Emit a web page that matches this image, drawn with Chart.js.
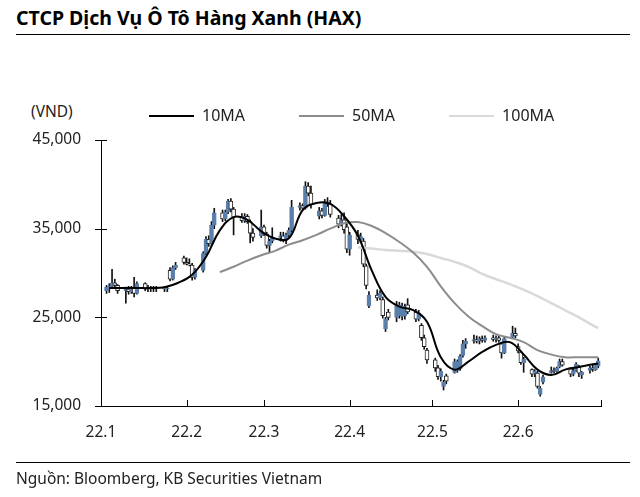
<!DOCTYPE html>
<html>
<head>
<meta charset="utf-8">
<script src="https://cdn.jsdelivr.net/npm/chart.js@4.4.1/dist/chart.umd.min.js"></script>
<style>
  html, body { margin: 0; padding: 0; background: #fff; }
  body { width: 640px; height: 497px; position: relative; overflow: hidden; font-family: 'Noto Sans', sans-serif; color: #000; }
  #title { position: absolute; left: 16px; top: 4px; font-size: 19.5px; font-weight: bold; white-space: nowrap; }
  #titleLine { position: absolute; left: 16px; top: 34px; width: 614px; border-top: 1px solid #000; }
  #unit { position: absolute; left: 31px; top: 100px; font-size: 15.5px; color: #222; }
  #footLine { position: absolute; left: 16px; top: 462px; width: 614px; border-top: 1px solid #000; }
  #source { position: absolute; left: 16px; top: 467px; font-size: 15.5px; color: #222; white-space: nowrap; }
  #wrap { position: absolute; left: 0; top: 0; width: 640px; height: 497px; }
</style>
</head>
<body>
<div id="title">CTCP Dịch Vụ Ô Tô Hàng Xanh (HAX)</div>
<div id="titleLine"></div>
<div id="unit">(VND)</div>
<div id="wrap"><canvas id="chart"></canvas></div>
<div id="footLine"></div>
<div id="source">Nguồn: Bloomberg, KB Securities Vietnam</div>
<script>
// x axis: days counted from 2022-01-01, ticks at the first day of each month
const monthStarts = [0, 31, 59, 90, 120, 151, 181];
const monthLabels = ['22.1', '22.2', '22.3', '22.4', '22.5', '22.6', ''];

// daily candles, one per weekday from Jan 3 to Jun 30 (VND)
const open = [
  28000, 28400, 28500, 28900, 28600, 28000, 28200, 27900, 28300, 27700, 28800, 28300, 28200, 28300, 28200, 28300, 28200, 30300, 29300, 30600,
  31700, 31200, 31000, 30900, 29500, 30300, 32200, 33800, 33300, 35400, 36800, 36100, 36900, 38100, 37200, 36300, 35900, 36400, 35800, 34500, 34200,
  35200, 34400, 33100, 33600, 34000, 34200, 33700, 34300, 34800, 37400, 37600, 37300, 39800, 39000, 36400, 37000, 36500, 38000, 37800, 36200, 35500, 36000, 35200,
  32700, 34300, 33800, 33600, 30800, 26300, 27500, 27200, 27000, 23700, 25600, 25000, 25200, 25100, 25200, 26400, 25600, 24800, 24100, 22700, 21300,
  20200, 19300, 18300, 17200, 18400, 18800, 19000, 19200, 20700, 22000, 22300, 22500, 22300, 22600, 22400, 22700, 22500, 22700, 22000, 21000, 22800, 23200,
  21700, 21100, 19900, 19100, 18600, 18700, 16300, 17700, 18800, 19000, 18900, 19400, 20000, 19200, 18600, 19000, 19400, 18500, 19000, 19300, 19100, 19500
];
const high = [
  28600, 28800, 30400, 29300, 28700, 28400, 28500, 28500, 29500, 29000, 28900, 28600, 28500, 28500, 28500, 28500, 28500, 30600, 30800, 31200,
  31900, 31700, 31600, 31100, 30500, 32400, 34100, 34200, 35800, 37300, 37100, 37100, 38300, 38400, 37400, 36700, 36700, 36600, 36000, 35000, 37100,
  35400, 34600, 33800, 35100, 34600, 34600, 34500, 35100, 38200, 37900, 37800, 40300, 40200, 39800, 37400, 37300, 38300, 38500, 38200, 36500, 36600, 36800, 35700,
  34600, 34800, 34500, 33900, 31000, 27900, 28100, 28000, 27300, 25000, 25900, 26800, 26700, 26600, 26500, 27100, 25900, 25800, 24300, 23000, 21500,
  20400, 19600, 19200, 17900, 18600, 20300, 20200, 20800, 22400, 22600, 23000, 22900, 22800, 22900, 22900, 23000, 22900, 22900, 22200, 22800, 24000, 23800,
  22000, 21200, 20500, 19200, 19100, 18900, 17200, 18500, 19400, 19300, 19400, 20300, 20300, 19300, 19200, 19900, 19600, 18900, 19500, 19600, 19800, 20400
];
const low = [
  27700, 27800, 28300, 28400, 27700, 26600, 27600, 27700, 27300, 27600, 28000, 27900, 27900, 27900, 27900, 27900, 27900, 29100, 29200, 30400,
  31000, 30900, 30800, 29200, 29300, 30100, 32000, 33000, 33100, 35000, 35800, 35900, 36700, 36900, 34300, 35700, 35700, 35600, 33400, 33600, 34000,
  34200, 32800, 32300, 33400, 33600, 33500, 33300, 34000, 34600, 37100, 37100, 37200, 38700, 37300, 36100, 36200, 36400, 37500, 36300, 35100, 35300, 34500, 32300,
  32000, 33300, 33400, 30700, 28200, 26100, 26900, 27000, 24900, 23400, 24700, 24500, 24900, 24700, 24800, 25400, 24500, 24600, 22400, 21400, 19800,
  18900, 18000, 17800, 16800, 17500, 18700, 18800, 19000, 20500, 21500, 22100, 22100, 22000, 22200, 22200, 22300, 22200, 22200, 20400, 20900, 22600, 22700,
  21000, 19700, 18800, 18300, 18300, 17000, 16100, 17500, 18700, 18700, 18800, 19300, 19500, 18300, 18400, 18900, 18300, 18100, 18700, 18900, 19000, 19300
];
const close = [
  28400, 28500, 28900, 28600, 28000, 28200, 27900, 28300, 27700, 28800, 28300, 28200, 28300, 28200, 28300, 28200, 28300, 29300, 30600, 30900,
  31200, 31000, 30900, 29500, 30300, 32200, 33800, 33300, 35400, 36800, 36100, 36900, 38100, 37200, 36300, 35900, 36400, 35800, 34500, 34000, 35200,
  34400, 33100, 33600, 34000, 34200, 33700, 34300, 34800, 37400, 37600, 37300, 39800, 39000, 37700, 37000, 36500, 38000, 37800, 36600, 35500, 36000, 34900, 32700,
  34300, 33800, 34100, 31000, 28600, 27500, 27200, 27700, 25200, 24800, 25000, 26300, 26400, 26300, 26200, 25600, 24800, 25500, 22700, 21700, 20200,
  19300, 18300, 18900, 17700, 17800, 20000, 20000, 20600, 22000, 22300, 22500, 22300, 22600, 22400, 22700, 22500, 22700, 22400, 21000, 22600, 23200, 22900,
  21200, 19900, 20300, 18600, 18900, 17200, 17000, 18300, 19000, 18900, 19300, 20000, 19600, 18600, 19000, 19700, 18700, 18800, 19300, 19100, 19600, 20100
];

// moving averages at these days
const maDays = [3, 8, 13, 18, 23, 28, 33, 38, 43, 48, 53, 58, 63, 68, 73, 78, 83, 88, 93, 98,
  103, 108, 113, 118, 123, 128, 133, 138, 143, 148, 153, 158, 163, 168, 173, 178, 180];
const ma10 = [28300, 28300, 28300, 28300, 28400, 28900, 29800, 31800, 34800, 36300, 36000, 34700, 33900, 33900, 37100, 37900, 37800, 36400, 34200, 30300,
  27300, 26200, 25800, 24500, 20500, 19100, 20000, 21100, 21900, 22200, 20800, 19100, 18500, 19100, 19400, 19700, 19800];
const ma50 = [null, null, null, null, null, null, null, null, 30100, 30700, 31400, 32000, 32500, 33200, 33700, 34300, 35000, 35600, 35750, 35300,
  34500, 33500, 32300, 30700, 28500, 26600, 25100, 24000, 23100, 22700, 22200, 21300, 20800, 20500, 20500, 20500, 20500];
const ma100 = [null, null, null, null, null, null, null, null, null, null, null, null, null, null, null, null, null, null, 32900, 32750,
  32600, 32500, 32400, 32150, 31700, 31250, 30700, 29900, 29300, 28750, 28100, 27400, 26600, 25800, 25000, 24100, 23800];

// weekdays only (2022-01-01 was a Saturday)
const tradingDays = [];
for (let d = 0; d <= 180; d++) {
  if (d % 7 >= 2) tradingDays.push(d);
}

const UP = '#5b7fab';
const FONT = "'Noto Sans', sans-serif";
Chart.defaults.font.family = FONT;
Chart.defaults.color = '#222';

const maLine = (label, values, color, width) => ({
  type: 'line',
  label: label,
  data: maDays.map((d, i) => ({ x: d, y: values[i] })),
  borderColor: color,
  backgroundColor: color,
  borderWidth: width,
  pointRadius: 0,
  tension: 0.4,
  order: 0
});

// small tick marks: inward on the x axis, crossing on the y axis
const tickMarks = {
  id: 'tickMarks',
  afterDraw(chart) {
    const { ctx, chartArea: a, scales: { x, y } } = chart;
    ctx.save();
    ctx.strokeStyle = '#000';
    ctx.lineWidth = 1;
    ctx.beginPath();
    x.ticks.forEach(t => {
      const px = Math.round(x.getPixelForValue(t.value)) + 0.5;
      ctx.moveTo(px, a.bottom);
      ctx.lineTo(px, a.bottom - 6);
    });
    y.ticks.forEach(t => {
      const py = Math.round(y.getPixelForValue(t.value)) + 0.5;
      ctx.moveTo(a.left - 6, py);
      ctx.lineTo(a.left + 6, py);
    });
    ctx.stroke();
    ctx.restore();
  }
};

// move the legend row to where the original has it (over the plot, a bit higher)
const legendNudge = {
  id: 'legendNudge',
  afterLayout(chart) {
    const l = chart.legend;
    if (l) {
      l.top -= 6;
      l.bottom -= 6;
      l.left += 95;
      l.right += 95;
    }
  }
};

new Chart(document.getElementById('chart'), {
  type: 'bar',
  data: {
    datasets: [
      maLine('10MA', ma10, '#000000', 2),
      maLine('50MA', ma50, '#8c8c8c', 2),
      maLine('100MA', ma100, '#d9d9d9', 2.5),
      {
        label: 'body',
        data: tradingDays.map((d, i) => ({ x: d, y: [open[i], close[i]] })),
        backgroundColor: c => close[c.dataIndex] >= open[c.dataIndex] ? UP : '#ffffff',
        borderColor: c => close[c.dataIndex] >= open[c.dataIndex] ? UP : '#222222',
        borderWidth: 1,
        borderSkipped: false,
        barThickness: 4,
        grouped: false,
        order: 1
      },
      {
        label: 'wick',
        data: tradingDays.map((d, i) => ({ x: d, y: [low[i], high[i]] })),
        backgroundColor: '#111111',
        borderWidth: 0,
        barThickness: 1,
        grouped: false,
        order: 2
      }
    ]
  },
  options: {
    responsive: true,
    maintainAspectRatio: false,
    animation: false,
    layout: { padding: { top: 60, right: 39, bottom: 0, left: 0 } },
    plugins: {
      tooltip: { enabled: false },
      legend: {
        position: 'top',
        fullSize: true,
        align: 'start',
        labels: {
          boxWidth: 45,
          boxHeight: 2,
          padding: 54,
          color: '#222',
          font: { size: 16, family: FONT },
          filter: item => item.datasetIndex < 3,
          generateLabels: chart => Chart.defaults.plugins.legend.labels.generateLabels(chart)
            .map(l => Object.assign(l, { lineWidth: 0, fillStyle: l.strokeStyle }))
        }
      }
    },
    scales: {
      x: {
        type: 'linear',
        min: 0,
        max: 181,
        offset: false,
        grid: { display: false, drawTicks: false, offset: false },
        border: { display: true, color: '#000', width: 1 },
        afterBuildTicks: s => { s.ticks = monthStarts.map(v => ({ value: v })); },
        afterFit: s => { s.height = 91; },
        ticks: {
          autoSkip: false,
          maxRotation: 0,
          padding: 17,
          color: '#222',
          font: { size: 15.5, family: FONT },
          callback: (v, i) => monthLabels[i]
        }
      },
      y: {
        type: 'linear',
        min: 15000,
        max: 45000,
        beginAtZero: false,
        grid: { display: false, drawTicks: false },
        border: { display: true, color: '#000', width: 1 },
        afterFit: s => { s.width = 101; },
        ticks: {
          stepSize: 10000,
          padding: 20,
          color: '#222',
          font: { size: 15.5, family: FONT },
          callback: v => v.toLocaleString('en-US')
        }
      }
    }
  },
  plugins: [tickMarks, legendNudge]
});
</script>
</body>
</html>
